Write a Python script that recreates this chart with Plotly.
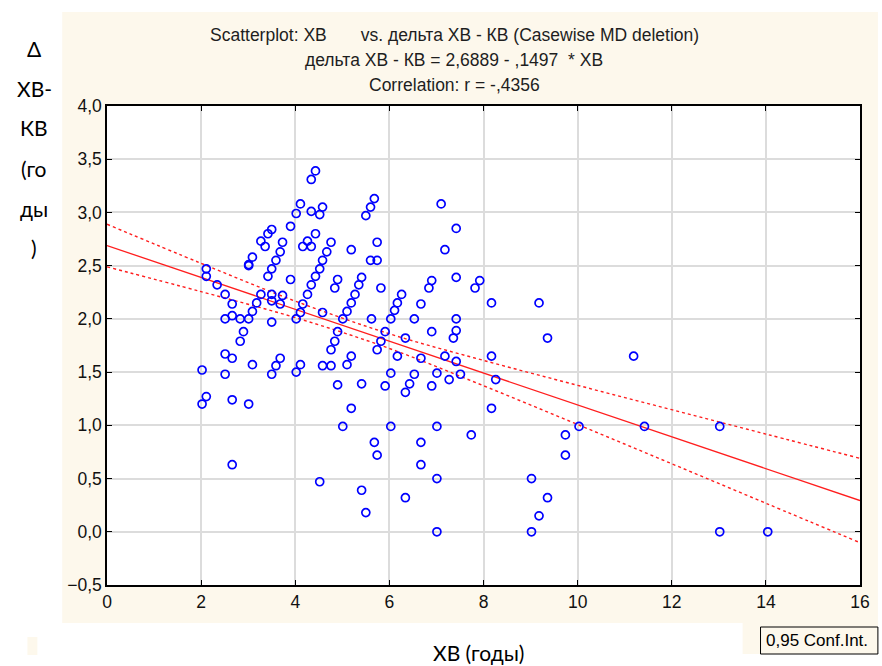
import numpy as np
import plotly.graph_objects as go

# ---- data ----
xb = [4.43,4.34,4.11,4.02,4.34,4.52,4.58,3.90,3.50,3.42,
      3.27,3.36,3.73,4.16,4.34,4.26,4.43,4.76,5.19,3.68,
      3.59,3.50,3.42,3.09,3.01,3.01,4.67,4.58,4.52,4.43,
      4.34,4.26,4.16,4.11,4.02,3.90,4.90,4.84,2.11,2.11,
      2.34,2.51,2.66,2.66,2.51,2.83,3.01,3.09,3.18,3.27,
      3.50,3.50,3.73,3.68,3.50,2.90,2.83,2.51,2.66,3.09,
      3.68,3.59,3.50,2.02,2.51,4.02,4.11,4.58,4.76,5.10,
      5.19,4.90,4.84,4.76,4.58,5.01,5.10,5.19,5.27,5.35,
      2.11,2.02,2.66,3.01,4.90,5.19,5.01,2.66,4.52,5.41,
      5.41,5.82,6.84,6.90,7.82,7.92,6.26,6.17,6.11,6.03,
      5.91,5.82,5.74,5.62,6.67,6.53,6.34,6.17,6.03,5.91,
      6.53,6.43,6.34,6.67,6.90,7.18,7.42,7.42,7.36,7.42,
      7.01,6.90,7.51,7.27,8.17,9.18,9.36,8.17,8.26,8.17,
      6.03,7.01,7.74,5.68,5.74,6.67,6.67,7.01,5.50,6.34,
      7.01,9.02,9.36,9.18,9.02,9.74,9.74,10.03,5.68,5.60,
      5.50,5.74,5.60,5.74,7.10,7.42,7.18,7.42,5.41,11.19,
      11.42,13.02,13.02,14.04]
delta = [3.39,3.31,3.08,2.99,3.01,2.98,3.05,2.87,2.84,2.80,
         2.73,2.68,2.72,2.68,2.68,2.73,2.80,2.72,2.65,2.63,
         2.55,2.47,2.40,2.58,2.51,2.50,2.63,2.55,2.47,2.40,
         2.32,2.23,2.14,2.06,2.00,2.37,2.37,2.29,2.47,2.40,
         2.32,2.23,2.14,2.03,2.00,2.00,2.00,2.07,2.15,2.23,
         2.23,2.17,2.22,2.14,1.97,1.88,1.79,1.67,1.63,1.57,
         1.63,1.56,1.48,1.52,1.48,1.50,1.57,1.56,1.56,1.57,
         1.65,1.88,1.79,1.71,2.06,2.00,2.07,2.15,2.23,2.32,
         1.27,1.20,1.24,1.20,1.38,1.16,0.99,0.63,0.47,1.39,
         0.39,2.29,2.29,2.36,2.29,2.36,2.23,2.15,2.08,2.00,
         1.88,1.79,1.71,2.00,2.14,2.00,1.82,1.65,1.49,1.37,
         1.48,1.39,1.31,1.63,1.88,1.65,2.00,1.89,1.82,1.60,
         1.49,1.37,1.48,1.43,2.15,2.15,1.82,1.65,1.43,1.16,
         0.99,0.99,0.91,0.84,0.72,0.84,0.63,0.50,0.18,0.32,
         0.00,0.50,0.32,0.15,0.00,0.91,0.72,0.99,3.13,3.05,
         2.97,2.72,2.55,2.55,3.08,2.85,2.65,2.39,2.39,1.65,
         0.99,0.99,0.00,0.00]

# regression coefficients (from the chart's title)
intercept = 2.6889
slope = -0.1497
# 0,95 confidence band
ci_x = [0, 2, 4, 6, 8, 10, 12, 14, 16]
ci_upper = [2.889, 2.522, 2.167, 1.860, 1.610, 1.376, 1.147, 0.918, 0.690]
ci_lower = [2.489, 2.256, 2.012, 1.722, 1.372, 1.008, 0.639, 0.268, -0.102]

x_ticks = [0, 2, 4, 6, 8, 10, 12, 14, 16]
y_ticks = [-0.5, 0.0, 0.5, 1.0, 1.5, 2.0, 2.5, 3.0, 3.5, 4.0]

title_lines = [
    "Scatterplot: ХВ\u00a0\u00a0\u00a0\u00a0\u00a0\u00a0 vs. дельта ХВ - КВ (Casewise MD deletion)",
    "дельта ХВ - КВ = 2,6889 - ,1497\u00a0 * ХВ",
    "Correlation: r = -,4356",
]
ylabel_lines = ["Δ", "ХВ-", "КВ", "(го", "ды", ")"]
xlabel = "ХВ (годы)"
legend_text = "0,95 Conf.Int."

line_x = np.array([0.0, 16.0])
line_y = intercept + slope * line_x

W, H = 882, 666
L, R, T, B = 107, 864, 106, 585

def px(v):
    return (v - L) / (R - L)

def py(v):
    return (B - v) / (B - T)

red = "#ff1e1e"
fig = go.Figure()
fig.add_trace(go.Scatter(x=ci_x, y=ci_upper, mode="lines",
                         line=dict(color=red, width=1.4, dash="3px,3px", shape="spline"),
                         hoverinfo="skip", showlegend=False))
fig.add_trace(go.Scatter(x=ci_x, y=ci_lower, mode="lines",
                         line=dict(color=red, width=1.4, dash="3px,3px", shape="spline"),
                         hoverinfo="skip", showlegend=False))
fig.add_trace(go.Scatter(x=line_x, y=line_y, mode="lines",
                         line=dict(color=red, width=1.3),
                         hoverinfo="skip", showlegend=False))
fig.add_trace(go.Scatter(x=xb, y=delta, mode="markers",
                         marker=dict(symbol="circle-open", size=8, color="#0000ff",
                                     line=dict(width=1.7, color="#0000ff")),
                         showlegend=False))

beige = "#fdf8ec"
shapes = [
    dict(type="rect", xref="paper", yref="paper", layer="below",
         x0=px(62), x1=px(882), y0=py(623), y1=py(12),
         fillcolor=beige, line=dict(width=0)),
    dict(type="rect", xref="paper", yref="paper", layer="below",
         x0=px(746), x1=px(882), y0=py(654), y1=py(623),
         fillcolor=beige, line=dict(width=0)),
    dict(type="rect", xref="paper", yref="paper", layer="below",
         x0=px(27), x1=px(37), y0=py(655), y1=py(637),
         fillcolor=beige, line=dict(width=0)),
    dict(type="rect", xref="paper", yref="paper", layer="below",
         x0=0, x1=1, y0=0, y1=1,
         fillcolor="white", line=dict(width=0)),
    dict(type="rect", xref="paper", yref="paper", layer="above",
         x0=px(764), x1=px(882), y0=py(654), y1=py(627),
         fillcolor="rgba(0,0,0,0)", line=dict(color="black", width=1)),
]

arial = "Liberation Sans, Arial, sans-serif"
calibri = "Lato, Open Sans, sans-serif"
annotations = []
for i, t in enumerate(title_lines):
    annotations.append(dict(text=t, xref="paper", yref="paper",
                            x=px(456), y=py(35 + 25 * i), showarrow=False,
                            xanchor="center", yanchor="middle",
                            font=dict(family=arial, size=17.5, color="#1e1e1e")))
for i, t in enumerate(ylabel_lines):
    annotations.append(dict(text=t, xref="paper", yref="paper",
                            x=px(34), y=py(48 + 40 * i), showarrow=False,
                            xanchor="center", yanchor="middle",
                            font=dict(family=calibri, size=21, color="black")))
annotations.append(dict(text=xlabel, xref="paper", yref="paper",
                        x=px(480), y=py(652), showarrow=False,
                        xanchor="center", yanchor="middle",
                        font=dict(family=calibri, size=21, color="black")))
annotations.append(dict(text=legend_text, xref="paper", yref="paper",
                        x=px(767), y=py(640.5), showarrow=False,
                        xanchor="left", yanchor="middle",
                        font=dict(family=arial, size=17, color="black")))

tick_font = dict(family=arial, size=17.5, color="#111111")
fig.update_layout(
    width=W, height=H,
    margin=dict(l=L, r=W - R, t=T, b=H - B, pad=0),
    paper_bgcolor="white", plot_bgcolor="white",
    separators=", ",
    showlegend=False,
    shapes=shapes, annotations=annotations,
    xaxis=dict(range=[0, 16], tickvals=x_ticks, tickformat="d",
               showgrid=True, gridcolor="#dcdcdc", gridwidth=1.5,
               zeroline=False, showline=True, linecolor="black", linewidth=1.5,
               mirror="ticks", ticks="inside", ticklen=5, tickcolor="black",
               tickfont=tick_font),
    yaxis=dict(range=[-0.5, 4.0], tickvals=y_ticks, tickformat=".1f",
               showgrid=True, gridcolor="#dcdcdc", gridwidth=1.5,
               zeroline=False, showline=True, linecolor="black", linewidth=1.5,
               mirror="ticks", ticks="inside", ticklen=5, tickcolor="black",
               tickfont=tick_font),
)

fig.write_html("out.html", config={"displayModeBar": False},
               post_script="document.body.style.margin='0';document.body.style.overflow='hidden';")
